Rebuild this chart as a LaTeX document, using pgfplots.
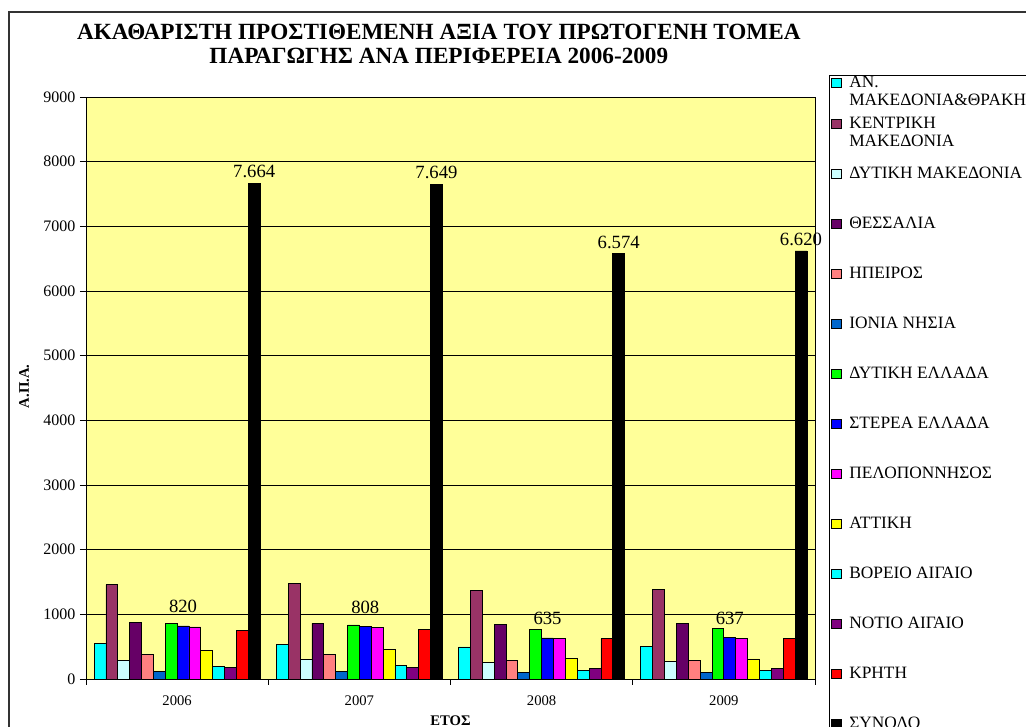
\documentclass[border=0pt]{standalone}
\usepackage{fontspec}
\setmainfont{Liberation Serif}
\usepackage{pgfplots}
\usepackage{pgfplotstable}
\pgfplotsset{compat=1.18}

\definecolor{plotbg}{HTML}{FFFF99}
\definecolor{cA}{HTML}{00FFFF}
\definecolor{cB}{HTML}{993366}
\definecolor{cC}{HTML}{CCFFFF}
\definecolor{cD}{HTML}{660066}
\definecolor{cE}{HTML}{FF8080}
\definecolor{cF}{HTML}{0066CC}
\definecolor{cG}{HTML}{00FF00}
\definecolor{cH}{HTML}{0000FF}
\definecolor{cI}{HTML}{FF00FF}
\definecolor{cJ}{HTML}{FFFF00}
\definecolor{cK}{HTML}{00FFFF}
\definecolor{cL}{HTML}{800080}
\definecolor{cM}{HTML}{FF0000}
\definecolor{cN}{HTML}{000000}

% legend entry: 9pt high, chosen depth, first line on the baseline
\newcommand\lent[2][28.5pt]{\hspace{5.25pt}\makebox[250pt][l]{\rule[-#1]{0pt}{\dimexpr#1+9pt\relax}\smash{\begin{tabular}[t]{@{}l@{}}#2\end{tabular}}}}

\pgfplotstableread{
x  a   b    c   d   e   f   g   h   i   j   k   l   m   n    hl  nl
0  550 1460 285 870 380 120 860 820 805 440 190 175 750 7664 820 7.664
1  540 1475 300 860 380 120 835 808 795 455 205 180 765 7649 808 7.649
2  495 1365 255 845 285 100 765 635 625 315 135 165 625 6574 635 6.574
3  510 1380 270 860 290 100 775 637 625 310 135 165 625 6620 637 6.620
}\data

\begin{document}
\begin{tikzpicture}
\useasboundingbox (0,0) rectangle (769.5pt,545.25pt);
\begin{axis}[
    at={(64.5pt,36pt)}, anchor=south west,
    scale only axis, width=546.75pt, height=436.5pt,
    xmin=-0.5, xmax=3.5,
    ymin=0, ymax=9000,
    ytick={0,1000,...,9000},
    xtick={-0.5,0.5,1.5,2.5,3.5}, xticklabels={},
    extra x ticks={0,1,2,3},
    extra x tick labels={2006,2007,2008,2009},
    extra x tick style={major tick length=0pt, grid=none},
    tick pos=left, tick align=outside, major tick length=4.5pt,
    tick style={black, line width=0.6pt},
    axis line style={black, line width=0.6pt},
    axis background/.style={fill=plotbg},
    ymajorgrids, grid style={black, line width=0.5pt},
    /pgf/number format/1000 sep={},
    /pgf/number format/assume math mode=true,
    yticklabel style={font=\fontsize{12}{14}\selectfont},
    xticklabel style={anchor=center, yshift=-16pt, font=\fontsize{11}{13}\selectfont},
    ybar=0pt, bar width=0.0651,
    every axis plot/.append style={draw=black, line width=0.6pt},
    every axis plot post/.append style={legend image code/.code={\draw[##1] (0pt,0pt) rectangle (7.5pt,7pt);}},
    title={ΑΚΑΘΑΡΙΣΤΗ ΠΡΟΣΤΙΘΕΜΕΝΗ ΑΞΙΑ ΤΟΥ ΠΡΩΤΟΓΕΝΗ ΤΟΜΕΑ\\ΠΑΡΑΓΩΓΗΣ ΑΝΑ ΠΕΡΙΦΕΡΕΙΑ 2006-2009},
    title style={at={(axis description cs:0.484,1.0773)}, anchor=center, align=center,
        font=\bfseries\fontsize{17.4}{18}\selectfont},
    xlabel={ΕΤΟΣ},
    xlabel style={at={(axis description cs:0.5,0)}, anchor=center, yshift=-31.5pt,
        font=\bfseries\fontsize{11}{13}\selectfont},
    ylabel={Α.Π.Α.},
    ylabel style={at={(axis description cs:-0.085,0.503)}, anchor=center,
        font=\bfseries\fontsize{11}{13}\selectfont},
    legend style={at={(1.0192,1.0385)}, anchor=north west, draw=black, line width=0.75pt,
        fill=white, inner xsep=1.5pt, inner ysep=0.5pt, row sep=0pt,
        font=\fontsize{13}{13.5}\selectfont,
        cells={anchor=base west}, nodes={inner sep=0pt, text depth=}},
]
\addplot[fill=cA] table[x=x,y=a]{\data};
\addplot[fill=cB] table[x=x,y=b]{\data};
\addplot[fill=cC] table[x=x,y=c]{\data};
\addplot[fill=cD] table[x=x,y=d]{\data};
\addplot[fill=cE] table[x=x,y=e]{\data};
\addplot[fill=cF] table[x=x,y=f]{\data};
\addplot[fill=cG] table[x=x,y=g]{\data};
\addplot[fill=cH, nodes near coords, point meta=explicit symbolic,
    nodes near coords style={anchor=center, yshift=14.5pt, font=\fontsize{14}{16}\selectfont}]
    table[x=x,y=h,meta=hl]{\data};
\addplot[fill=cI] table[x=x,y=i]{\data};
\addplot[fill=cJ] table[x=x,y=j]{\data};
\addplot[fill=cK] table[x=x,y=k]{\data};
\addplot[fill=cL] table[x=x,y=l]{\data};
\addplot[fill=cM] table[x=x,y=m]{\data};
\addplot[fill=cN, nodes near coords, point meta=explicit symbolic,
    nodes near coords style={anchor=center, yshift=8.6pt, font=\fontsize{14}{16}\selectfont}]
    table[x=x,y=n,meta=nl]{\data};
\legend{
  \lent[21.75pt]{ΑΝ.\\ΜΑΚΕΔΟΝΙΑ\&ΘΡΑΚΗ},
  \lent{ΚΕΝΤΡΙΚΗ\\ΜΑΚΕΔΟΝΙΑ},
  \lent{ΔΥΤΙΚΗ ΜΑΚΕΔΟΝΙΑ},
  \lent{ΘΕΣΣΑΛΙΑ},
  \lent{ΗΠΕΙΡΟΣ},
  \lent{ΙΟΝΙΑ ΝΗΣΙΑ},
  \lent{ΔΥΤΙΚΗ ΕΛΛΑΔΑ},
  \lent{ΣΤΕΡΕΑ ΕΛΛΑΔΑ},
  \lent{ΠΕΛΟΠΟΝΝΗΣΟΣ},
  \lent{ΑΤΤΙΚΗ},
  \lent{ΒΟΡΕΙΟ ΑΙΓΑΙΟ},
  \lent{ΝΟΤΙΟ ΑΙΓΑΙΟ},
  \lent{ΚΡΗΤΗ},
  \lent[20pt]{ΣΥΝΟΛΟ}}
\end{axis}
\draw[line width=1.1pt, black!80] (6.75pt,-5pt) -- (6.75pt,536.25pt) -- (780pt,536.25pt);
\end{tikzpicture}
\end{document}
